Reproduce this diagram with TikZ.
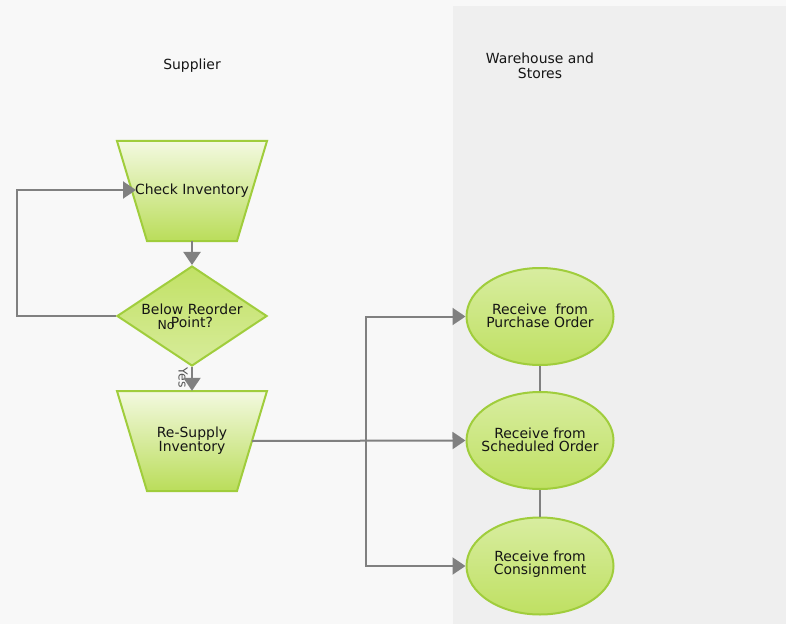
\documentclass[tikz,border=0pt]{standalone}
\usepackage{fontspec}
\setmainfont{DejaVu Sans}
\usetikzlibrary{shapes.geometric,arrows.meta}
\definecolor{bgA}{HTML}{F8F8F8}
\definecolor{bgB}{HTML}{EFEFEF}
\definecolor{grnb}{HTML}{A0CD3C}
\definecolor{conn}{HTML}{808080}
\definecolor{txt}{HTML}{151515}
\definecolor{yestxt}{HTML}{555555}
\definecolor{trapTop}{HTML}{F3F9E0}
\definecolor{trapBot}{HTML}{BADD5A}
\definecolor{diaTop}{HTML}{C2E166}
\definecolor{diaBot}{HTML}{D7EC9A}
\definecolor{ellTop}{HTML}{D8EDA0}
\definecolor{ellBot}{HTML}{BFE062}
\begin{document}
\begin{tikzpicture}[x=1bp,y=-1bp,
  trapf/.style={draw=grnb, line width=2bp, line join=miter,
    top color=trapTop, bottom color=trapBot},
  tbox/.style={rectangle, minimum width=150bp, minimum height=100bp, inner sep=0pt,
    font=\fontsize{14}{13}\selectfont, text=txt, align=center},
  dia/.style={diamond, minimum width=150bp, minimum height=100bp, inner sep=0pt,
    draw=grnb, line width=2bp, top color=diaTop, bottom color=diaBot},
  ell/.style={ellipse, minimum width=147bp, minimum height=97bp, inner sep=0pt,
    draw=grnb, line width=2bp, top color=ellTop, bottom color=ellBot},
  lbl/.style={font=\fontsize{14}{13}\selectfont, text=txt, align=center, inner sep=0pt},
  small/.style={font=\fontsize{12.5}{12}\selectfont, text=txt, inner sep=0pt},
  line/.style={draw=conn, line width=2bp},
  arr/.style={line, -{Triangle[length=13bp,width=17bp]}}
]
\useasboundingbox (0,0) rectangle (786,624);
\fill[bgA] (0,0) rectangle (786,624);
\fill[bgB] (453,6) rectangle (786,624);

\node[lbl] (hsup) at (192,66) {Supplier};
\node[lbl, font=\fontsize{14}{15}\selectfont] (hwh) at (540,65.5) {Warehouse and\\Stores};

\path[trapf] (117,141) -- (267,141) -- (237,241) -- (147,241) -- cycle;
\node[tbox] (check) at (192,191) {\raisebox{1bp}{Check Inventory}};
\node[dia] (dec) at (192,316) {};
\path[trapf] (117,391) -- (267,391) -- (237,491) -- (147,491) -- cycle;
\node[tbox] (res) at (192,441) {Re-Supply\\Inventory};

\node[ell] (e1) at (540,316.5) {};
\node[ell] (e2) at (540,440.5) {};
\node[ell] (e3) at (540,566) {};
\node[lbl] (e1t) at (540,315.5) {Receive\ \ from\\Purchase Order};
\node[lbl] (e2t) at (540,439.5) {Receive from\\Scheduled Order};
\node[lbl] (e3t) at (540,564.5) {Receive from\\Consignment};

\node[small] (no) at (166,325) {No};
\node[lbl] (dect) at (192,315.5) {Below Reorder\\Point?};
\node[small, rotate=-90, text=yestxt] (yes) at (183,378) {Yes};

\coordinate (lp) at (17,316);
\coordinate (ckin) at (136,190);
\coordinate (resout) at (252,441);
\coordinate (split) at (366,441);

\draw[arr] (check.south) -- (dec.north);
\draw[arr] (dec.south) -- (res.north);
\draw[arr] (dec.west) -- (lp) |- (ckin);
\draw[arr] (resout) -- (e2.west);
\draw[arr] (split) |- (e1.west);
\draw[arr] (split) |- (e3.west);
\draw[line] (e1.south) -- (e2.north);
\draw[line] (e2.south) -- (e3.north);
\end{tikzpicture}
\end{document}
